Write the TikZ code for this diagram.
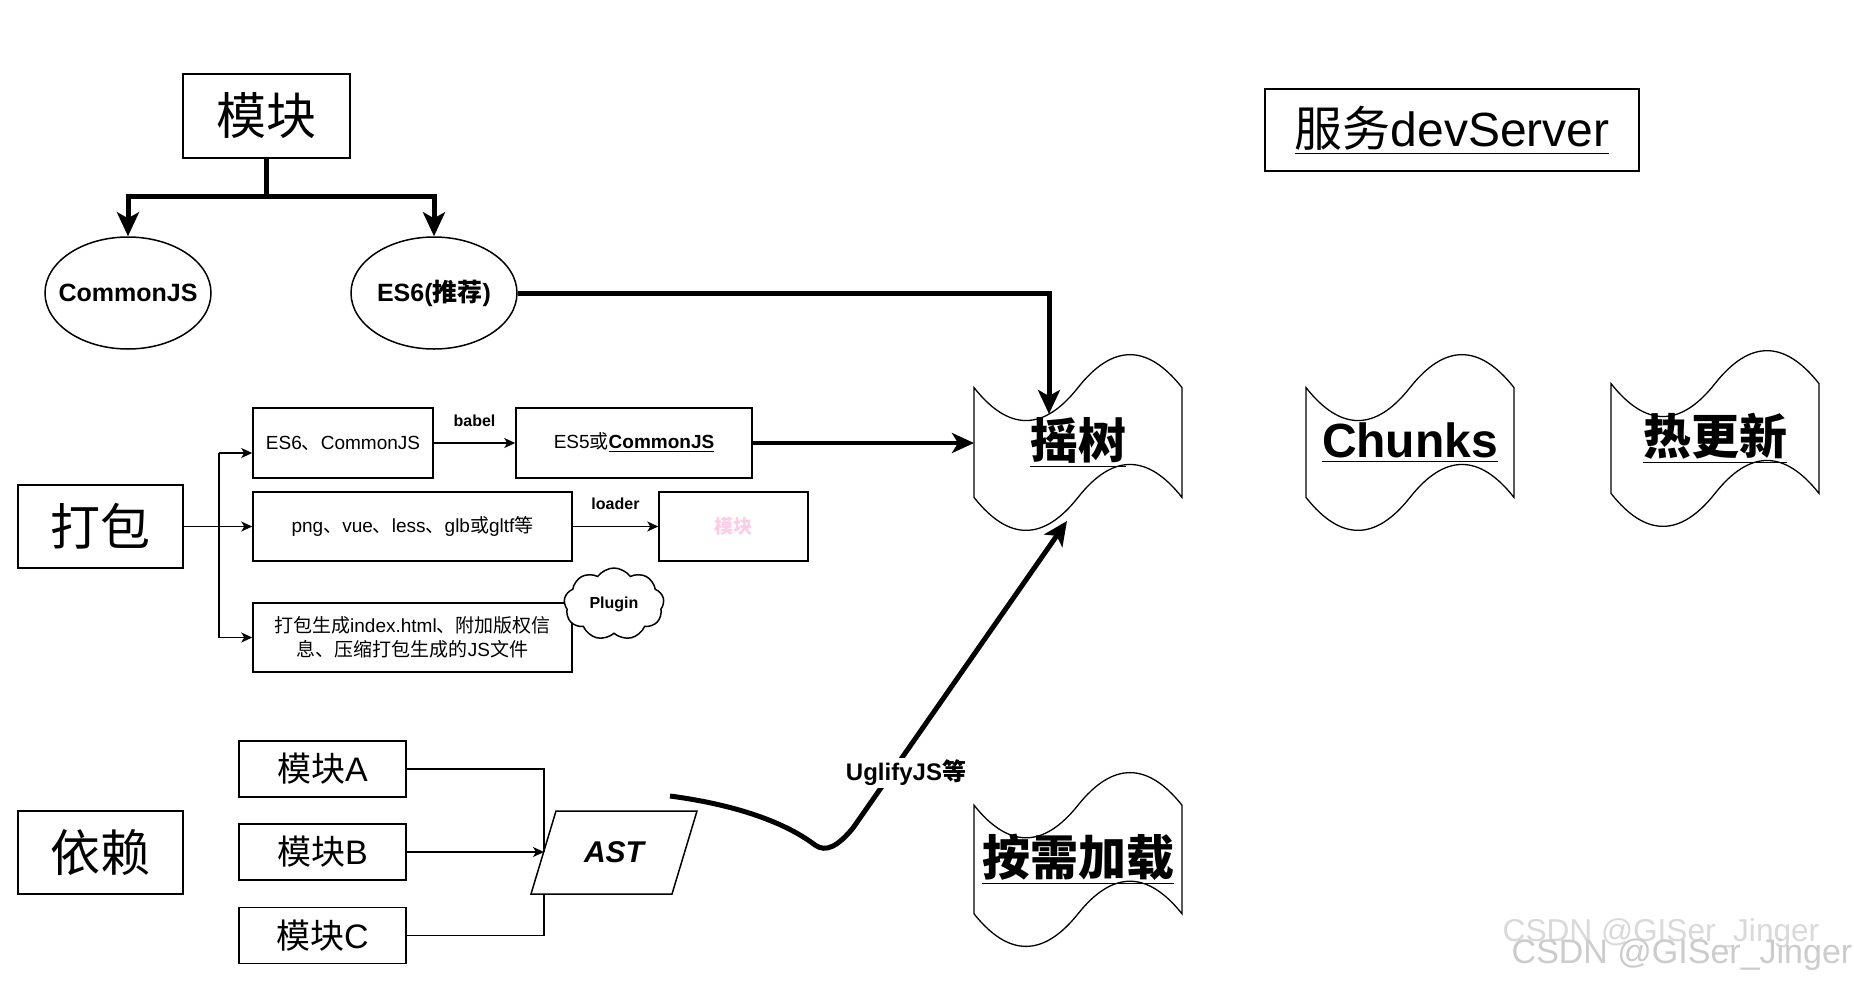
\documentclass[tikz,border=0pt]{standalone}
\usepackage{fontspec}
\setmainfont{Liberation Sans}
\newfontfamily\cjk{Noto Sans CJK SC}
\usetikzlibrary{shapes.geometric,shapes.symbols,arrows.meta,calc}
\definecolor{lpink}{RGB}{255,204,230}
\newcommand\zh[1]{{\cjk #1}}
\newcommand\fs[1]{\fontsize{#1}{#1}\selectfont}
\newcommand\tape[4]{%
\pgfmathsetmacro\tdy{0.4*#4}%
\draw[line width=0.65pt, fill=white] ({#1},{#2+0.5*\tdy}) .. controls ({#1+#3/6},{#2+1.1*\tdy}) and ({#1+#3/3},{#2+1.1*\tdy}) .. ({#1+#3/2},{#2+0.5*\tdy}) .. controls ({#1+2*#3/3},{#2-0.1*\tdy}) and ({#1+5*#3/6},{#2-0.1*\tdy}) .. ({#1+#3},{#2+0.5*\tdy}) -- ({#1+#3},{#2+#4-0.5*\tdy}) .. controls ({#1+5*#3/6},{#2+#4-1.1*\tdy}) and ({#1+2*#3/3},{#2+#4-1.1*\tdy}) .. ({#1+#3/2},{#2+#4-0.5*\tdy}) .. controls ({#1+#3/3},{#2+#4+0.1*\tdy}) and ({#1+#3/6},{#2+#4+0.1*\tdy}) .. ({#1},{#2+#4-0.5*\tdy}) -- cycle;}
\tikzset{
 bx/.style={draw, line width=0.75pt, fill=white, inner sep=0pt, align=center},
 ell/.style={draw, ellipse, line width=0.75pt, minimum width=83pt, minimum height=56pt, inner sep=0pt},
 thk/.style={line width=2.5pt, -{Stealth[length=12pt,width=11pt,inset=3pt]}},
 thn/.style={line width=0.75pt},
 thnar/.style={line width=0.75pt, -{Stealth[length=5.5pt,width=5pt,inset=1.5pt]}},
 big/.style={font=\fs{25}},
 sml/.style={font=\fs{9.5}},
 lbl/.style={font=\fs{8}\bfseries, inner sep=1pt},
 tapetxt/.style={font=\fs{24}\bfseries, inner sep=0pt},
}
\begin{document}
\begin{tikzpicture}[x=0.5pt,y=-0.5pt]
\useasboundingbox[fill=white] (0,0) rectangle (1854,986);

% top: modules
\node[bx, big, minimum width=83.5pt, minimum height=42pt] (mod) at (266.5,116) {\zh{模块}};
\node[ell] (cjs) at (128,293) {};
\node[font=\fs{12.5}\bfseries, inner sep=0pt] (cjst) at (cjs.center) {CommonJS};
\node[ell] (es6) at (434,293) {};
\node[font=\fs{12.5}\bfseries, inner sep=0pt] (es6t) at (es6.center) {ES6(\zh{推荐})};
\coordinate (br) at (266.5,196);
\draw[line width=2.5pt] (mod.south) -- (br);
\draw[thk] (br) -| (cjs.north);
\draw[thk] (br) -| (es6.north);

% devServer
\node[bx, font=\fs{24}, minimum width=187pt, minimum height=41pt] (dev) at (1452,130) {\underline{\zh{服务}devServer}};

% tapes
\tape{974}{351}{208}{183}
\node[tapetxt] (shake) at (1078,442.5) {\underline{\zh{摇树}}};
\tape{1306}{351}{208}{183}
\node[tapetxt] (chunks) at (1410,442.5) {\underline{Chunks}};
\tape{1611}{347}{208}{183}
\node[tapetxt] (hot) at (1715,438.5) {\underline{\zh{热更新}}};
\tape{974}{769}{208}{181}
\node[tapetxt] (lazy) at (1078,859.5) {\underline{\zh{按需加载}}};
\coordinate (tipA) at (1049,414);
\coordinate (tipL) at (974,443);
\coordinate (tipU) at (1067,521);

\draw[thk] (es6.east) -| (tipA);

% bundling
\node[bx, big, minimum width=82.5pt, minimum height=41.5pt] (db) at (100.5,526.5) {\zh{打包}};
\node[bx, sml, minimum width=90pt, minimum height=35pt] (b1) at (343,443) {ES6\zh{、}CommonJS};
\node[bx, sml, minimum width=118pt, minimum height=35pt] (b2) at (634,443) {ES5\zh{或}\textbf{\underline{CommonJS}}};
\node[bx, sml, minimum width=159.5pt, minimum height=34.5pt] (b3) at (412.5,526.5) {png\zh{、}vue\zh{、}less\zh{、}glb\zh{或}gltf\zh{等}};
\node[bx, font=\fs{9.5}\bfseries, text=lpink, minimum width=74.5pt, minimum height=34.5pt] (b4) at (733.5,526.5) {\zh{模块}};
\node[bx, font=\fontsize{9.5}{11.8}\selectfont, minimum width=159.5pt, minimum height=34.5pt] (b5) at (412.5,637.5) {\zh{打包生成}index.html\zh{、附加版权信}\\\zh{息、压缩打包生成的}JS\zh{文件}};
\node[cloud, draw, fill=white, line width=0.75pt, cloud puffs=9, cloud puff arc=110, aspect=1.4, minimum width=50pt, minimum height=36pt, inner sep=0pt, font=\fs{8}\bfseries] (plug) at (614,604) {Plugin};

\draw[thnar] (b1.east) -- node[lbl, above=7pt] (babel) {babel} (b2.west);
\draw[thnar] (b3.east) -- node[lbl, above=7pt] (loader) {loader} (b4.west);
\draw[line width=2.2pt, -{Stealth[length=11pt,width=10pt,inset=3pt]}] (b2.east) -- (tipL);

\coordinate (j1) at (219,453);
\coordinate (j3) at (219,637.5);
\draw[thn] (db.east) -- (db.east -| j1);
\draw[thn] (j1) -- (j3);
\draw[thnar] (j1) -- (j1 -| b1.west);
\draw[thnar] (db.east -| j1) -- (b3.west);
\draw[thnar] (j3) -- (b5.west);

% dependencies
\node[bx, big, minimum width=82.5pt, minimum height=41.5pt] (dep) at (100.5,852.5) {\zh{依赖}};
\node[bx, font=\fs{17}, minimum width=83.5pt, minimum height=28pt] (mA) at (322.5,769) {\zh{模块}A};
\node[bx, font=\fs{17}, minimum width=83.5pt, minimum height=28pt] (mB) at (322.5,852) {\zh{模块}B};
\node[bx, font=\fs{17}, minimum width=83.5pt, minimum height=28pt] (mC) at (322.5,935.5) {\zh{模块}C};
\draw[line width=0.75pt, fill=white] (556,811) -- (697,811) -- (672,894) -- (531,894) -- cycle;
\node[font=\fs{15}\bfseries\itshape] (ast) at (614,852) {AST};
\coordinate (astin) at (544,852);
\coordinate (astbot) at (544,894);
\draw[thn] (mA.east) -| (astin);
\draw[thnar] (mB.east) -- (astin);
\draw[thn] (mC.east) -| (astbot);

\coordinate (cs) at (670,796);
\draw[line width=2.5pt, -{Stealth[length=12pt,width=11pt,inset=3pt]}] (cs) .. controls (745,806) and (790,826) .. (815,845) .. controls (826,853) and (838,846) .. (853,828) -- (tipU);
\node[font=\fs{12}\bfseries, fill=white, inner sep=1pt] (ugl) at (906,773) {UglifyJS\zh{等}};

% watermark
\node[font=\fs{15.8}, text=gray!30, anchor=center] (wm1) at (1661,933) {CSDN @GISer\_Jinger};
\node[font=\fs{17}, text=gray!40, anchor=center] (wm2) at (1682,955) {CSDN @GISer\_Jinger};
\end{tikzpicture}
\end{document}
